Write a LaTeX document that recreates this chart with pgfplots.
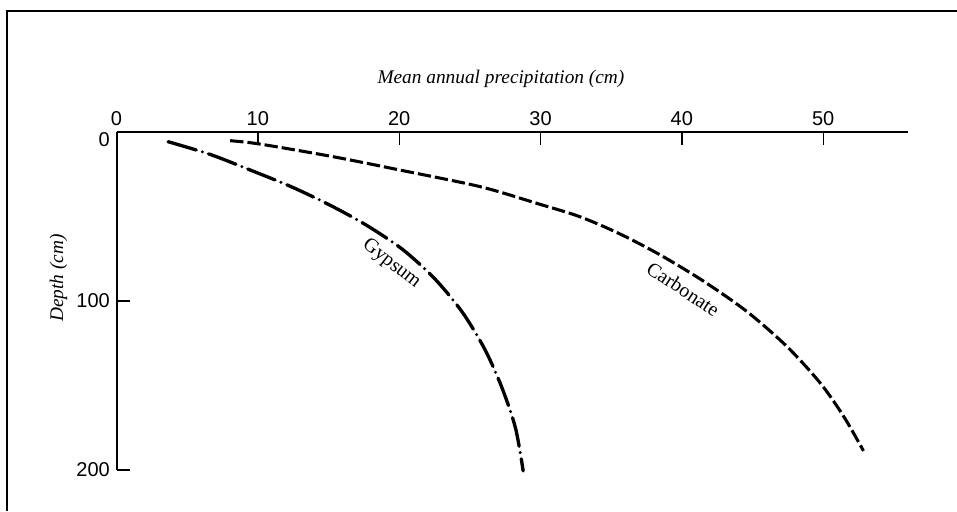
\documentclass[border=0pt]{standalone}
\usepackage{fontspec}
\setmainfont{Liberation Serif}
\newfontfamily\tickfont{Liberation Sans}
\usepackage{pgfplots}
\pgfplotsset{compat=1.18}
\begin{document}
\begin{tikzpicture}
\begin{axis}[
  scale only axis, width=593.6pt, height=253.7pt,
  xmin=0, xmax=56, ymin=0, ymax=200, y dir=reverse,
  axis x line*=top, axis y line*=left,
  axis line style={line width=1.5pt, black},
  xtick={0,10,20,30,40,50}, ytick={100,200},
  extra y ticks={0},
  extra y tick style={yticklabel style={yshift=-6pt}},
  tick align=inside, major tick length=10pt,
  tick style={line width=1pt, black},
  /pgf/number format/assume math mode=true,
  xticklabel style={font=\tickfont\fontsize{15}{17}\selectfont},
  yticklabel style={font=\tickfont\fontsize{15}{17}\selectfont},
  xticklabel shift=1pt, yticklabel shift=1.5pt,
  clip=false,
]
\addplot[black, line width=2.5pt, line cap=round, dash pattern=on 22pt off 4.8pt on 0pt off 4.8pt, smooth] coordinates {
 (3.65,5.9) (6.62,13.4) (9.57,23) (12.36,32.5) (15.1,43.4) (17.67,55.2) (20.24,69.6)
 (22.5,86.8) (24.45,106.5) (26.03,128.2) (27.23,150.5) (28.22,174.9) (28.77,200.5)};
\addplot[black, line width=2.3pt, dash pattern=on 10pt off 3pt, smooth] coordinates {
 (8.04,5.3) (10.16,7.3) (15.35,14.8) (20.08,22.7) (25.74,32.5) (29.76,42.4) (32.8,50.3)
 (35.66,60.6) (38.5,73) (41.56,88.5) (44.63,106.5) (47.46,127.2)
 (49.82,148.9) (51.47,168.6) (52.85,188.7)};
\node[font=\fontsize{15}{17}\selectfont, rotate=-38] at (axis cs:19.45,78.3) {Gypsum};
\node[font=\fontsize{15}{17}\selectfont, rotate=-33.5] at (axis cs:40.1,93) {Carbonate};
\node[font=\itshape\fontsize{14.5}{16}\selectfont, anchor=base] at ([yshift=36.5pt]axis cs:27.2,0) {Mean annual precipitation (cm)};
\node[font=\itshape\fontsize{14.5}{16}\selectfont, anchor=base, rotate=90] at ([xshift=-40pt]axis cs:0,86.6) {Depth (cm)};
\coordinate (A) at (axis cs:0,0);
\coordinate (B) at (axis cs:56,200);
\end{axis}
\coordinate (FL) at ([shift={(-82.1pt,90.5pt)}]A);
\coordinate (BR) at ([shift={(36.75pt,-30.75pt)}]B);
\useasboundingbox ([shift={(-87.4pt,98.8pt)}]A) rectangle (BR);
\draw[line width=1.5pt] (FL |- BR) -- (FL) -- (FL -| BR);
\end{tikzpicture}
\end{document}
